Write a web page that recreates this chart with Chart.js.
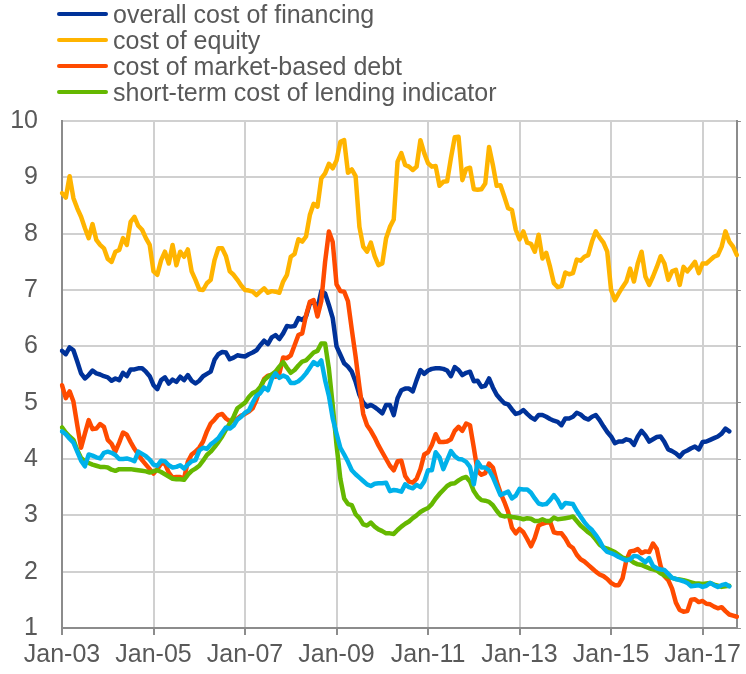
<!DOCTYPE html>
<html>
<head>
<meta charset="utf-8">
<script src="https://cdn.jsdelivr.net/npm/chart.js@4.4.1/dist/chart.umd.min.js"></script>
<style>
    body { margin: 0; background: #fff; font-family: "Liberation Sans", Arial, sans-serif; }
    #wrap { position: relative; width: 746px; height: 674px; }
    #legend { position: absolute; left: 57px; top: 1px; }
    .row { height: 26px; display: flex; align-items: center; font-size: 25px; color: #595959; white-space: nowrap; }
    .swatch { width: 51px; height: 4px; border-radius: 2px; margin-right: 5px; }
</style>
</head>
<body>
<div id="wrap">
    <canvas id="costChart" width="746" height="674"></canvas>
    <div id="legend"></div>
</div>
<script>
// monthly, Jan-03 .. Oct-17
const overall = [5.92, 5.86, 5.98, 5.93, 5.73, 5.52, 5.43, 5.49, 5.57, 5.52, 5.5, 5.47, 5.45, 5.39, 5.43, 5.4, 5.53, 5.47, 5.59, 5.59,
    5.61, 5.61, 5.55, 5.47, 5.31, 5.24, 5.4, 5.45, 5.34, 5.41, 5.37, 5.46, 5.4, 5.49, 5.39, 5.34, 5.39, 5.47, 5.51, 5.55,
    5.76, 5.86, 5.9, 5.89, 5.77, 5.8, 5.84, 5.83, 5.82, 5.86, 5.89, 5.93, 6.02, 6.1, 6.04, 6.16, 6.2, 6.13, 6.23, 6.36,
    6.35, 6.36, 6.5, 6.47, 6.53, 6.76, 6.79, 6.67, 6.98, 6.94, 6.73, 6.5, 6.0, 5.85, 5.7, 5.64, 5.55, 5.37, 5.14, 5.0,
    4.93, 4.96, 4.92, 4.87, 4.81, 4.96, 4.96, 4.78, 5.08, 5.22, 5.25, 5.25, 5.2, 5.4, 5.58, 5.51, 5.57, 5.6, 5.61, 5.61,
    5.6, 5.57, 5.47, 5.63, 5.58, 5.49, 5.53, 5.55, 5.38, 5.39, 5.28, 5.3, 5.43, 5.27, 5.14, 5.06, 4.99, 4.97, 4.88, 4.8,
    4.82, 4.87, 4.8, 4.74, 4.7, 4.78, 4.78, 4.75, 4.71, 4.68, 4.66, 4.6, 4.72, 4.72, 4.75, 4.82, 4.79, 4.73, 4.7, 4.75,
    4.78, 4.69, 4.58, 4.48, 4.4, 4.28, 4.31, 4.31, 4.35, 4.33, 4.25, 4.4, 4.5, 4.42, 4.31, 4.35, 4.39, 4.4, 4.3, 4.17,
    4.14, 4.1, 4.04, 4.12, 4.15, 4.19, 4.22, 4.17, 4.3, 4.31, 4.34, 4.37, 4.4, 4.45, 4.54, 4.49];
const equity = [8.72, 8.64, 9.02, 8.63, 8.45, 8.3, 8.1, 7.92, 8.17, 7.89, 7.8, 7.74, 7.55, 7.5, 7.68, 7.71, 7.92, 7.8, 8.21, 8.3,
    8.14, 8.07, 7.92, 7.8, 7.33, 7.27, 7.53, 7.68, 7.47, 7.8, 7.44, 7.68, 7.59, 7.72, 7.33, 7.18, 7.01, 7.0, 7.12, 7.18,
    7.53, 7.74, 7.74, 7.6, 7.33, 7.27, 7.18, 7.08, 7.0, 6.99, 6.97, 6.91, 6.97, 7.03, 6.95, 6.98, 6.97, 6.95, 7.15, 7.27,
    7.59, 7.64, 7.9, 7.86, 7.95, 8.33, 8.53, 8.48, 8.98, 9.07, 9.24, 9.16, 9.3, 9.63, 9.66, 9.08, 9.14, 9.02, 8.12, 7.77,
    7.68, 7.84, 7.6, 7.44, 7.47, 7.92, 8.12, 8.25, 9.28, 9.43, 9.22, 9.19, 9.13, 9.19, 9.66, 9.43, 9.25, 9.19, 9.2, 8.85,
    8.92, 8.93, 9.34, 9.71, 9.72, 8.95, 9.15, 9.17, 8.79, 8.78, 8.79, 8.89, 9.54, 9.22, 8.85, 8.86, 8.66, 8.45, 8.42, 8.07,
    7.9, 8.04, 7.84, 7.82, 7.68, 7.98, 7.56, 7.66, 7.41, 7.12, 7.05, 7.07, 7.31, 7.28, 7.3, 7.54, 7.52, 7.59, 7.62, 7.86,
    8.04, 7.93, 7.84, 7.68, 7.0, 6.82, 6.94, 7.05, 7.15, 7.38, 7.15, 7.47, 7.68, 7.24, 7.09, 7.24, 7.41, 7.6, 7.47, 7.18,
    7.33, 7.36, 7.09, 7.41, 7.33, 7.41, 7.5, 7.3, 7.47, 7.47, 7.53, 7.59, 7.62, 7.77, 8.04, 7.86, 7.77, 7.62];
const marketDebt = [5.31, 5.08, 5.2, 5.02, 4.6, 4.2, 4.45, 4.69, 4.53, 4.54, 4.62, 4.57, 4.34, 4.27, 4.13, 4.29, 4.47, 4.43, 4.3, 4.18,
    4.08, 3.98, 3.9, 3.82, 3.74, 3.82, 3.92, 3.92, 3.76, 3.67, 3.68, 3.68, 3.65, 3.95, 4.08, 4.13, 4.2, 4.31, 4.49, 4.63,
    4.7, 4.78, 4.8, 4.72, 4.67, 4.69, 4.72, 4.77, 4.8, 4.84, 4.9, 5.05, 5.25, 5.42, 5.48, 5.49, 5.46, 5.52, 5.8, 5.79,
    5.84, 6.02, 6.2, 6.23, 6.55, 6.79, 6.82, 6.53, 6.8, 7.5, 8.04, 7.85, 7.1, 6.98, 6.97, 6.8, 6.3, 5.82, 5.28, 4.8,
    4.6, 4.5, 4.38, 4.24, 4.12, 4.0, 3.88, 3.8, 3.96, 3.97, 3.7, 3.6, 3.58, 3.65, 3.82, 4.08, 4.12, 4.25, 4.44, 4.3,
    4.3, 4.31, 4.35, 4.5, 4.57, 4.5, 4.63, 4.6, 4.2, 3.78, 3.72, 3.75, 3.92, 3.85, 3.6, 3.4, 3.24, 3.06, 2.78, 2.68,
    2.76, 2.7, 2.58, 2.45, 2.6, 2.82, 2.85, 2.87, 2.89, 2.7, 2.68, 2.68, 2.59, 2.47, 2.42, 2.3, 2.22, 2.18, 2.12, 2.06,
    2.0, 1.95, 1.92, 1.87, 1.8, 1.76, 1.76, 1.88, 2.2, 2.36, 2.37, 2.4, 2.33, 2.36, 2.35, 2.5, 2.4, 2.1, 1.92, 1.85,
    1.7, 1.45, 1.32, 1.29, 1.3, 1.5, 1.51, 1.46, 1.48, 1.43, 1.42, 1.38, 1.35, 1.37, 1.3, 1.24, 1.22, 1.2];
const shortTermLending = [4.56, 4.47, 4.4, 4.34, 4.16, 4.02, 3.96, 3.93, 3.9, 3.88, 3.86, 3.86, 3.85, 3.81, 3.79, 3.82, 3.82, 3.82, 3.82, 3.81,
    3.8, 3.79, 3.78, 3.76, 3.78, 3.8, 3.77, 3.73, 3.69, 3.65, 3.64, 3.64, 3.63, 3.72, 3.79, 3.83, 3.88, 3.97, 4.07, 4.13,
    4.21, 4.3, 4.4, 4.52, 4.63, 4.75, 4.9, 4.95, 5.0, 5.1, 5.17, 5.2, 5.28, 5.4, 5.46, 5.5, 5.55, 5.64, 5.72, 5.62,
    5.53, 5.58, 5.66, 5.73, 5.75, 5.82, 5.89, 5.92, 6.05, 6.05, 5.6, 4.95, 4.25, 3.65, 3.3, 3.2, 3.18, 3.02, 2.95, 2.84,
    2.82, 2.87, 2.8, 2.75, 2.72, 2.68, 2.68, 2.67, 2.74, 2.8, 2.85, 2.89, 2.95, 3.0, 3.06, 3.1, 3.13, 3.2, 3.3, 3.38,
    3.45, 3.52, 3.56, 3.57, 3.62, 3.66, 3.68, 3.6, 3.43, 3.33, 3.27, 3.26, 3.24, 3.18, 3.08, 3.0, 2.98, 2.99, 2.97, 2.96,
    2.95, 2.93, 2.95, 2.94, 2.9, 2.9, 2.93, 2.9, 2.9, 2.96, 2.93, 2.94, 2.95, 2.96, 2.98, 2.9, 2.82, 2.76, 2.7, 2.65,
    2.57, 2.48, 2.43, 2.41, 2.38, 2.35, 2.3, 2.25, 2.23, 2.21, 2.16, 2.13, 2.12, 2.09, 2.06, 2.04, 2.02, 1.97, 1.93, 1.91,
    1.89, 1.87, 1.86, 1.85, 1.83, 1.81, 1.79, 1.79, 1.78, 1.79, 1.8, 1.77, 1.75, 1.73, 1.74, 1.75];
// light blue line, not in the legend
const longTermLending = [4.49, 4.44, 4.36, 4.29, 4.13, 3.97, 3.87, 4.08, 4.06, 4.03, 4.01, 4.11, 4.13, 4.11, 4.07, 4.0, 4.0, 4.01, 3.99, 3.96,
    4.13, 4.09, 4.05, 3.99, 3.9, 3.88, 3.97, 3.96, 3.89, 3.85, 3.86, 3.89, 3.83, 3.9, 3.96, 3.98, 4.15, 4.2, 4.18, 4.26,
    4.31, 4.37, 4.47, 4.56, 4.54, 4.59, 4.7, 4.75, 4.82, 4.86, 5.0, 5.12, 5.17, 5.27, 5.22, 5.42, 5.52, 5.44, 5.48, 5.45,
    5.35, 5.35, 5.38, 5.44, 5.52, 5.62, 5.72, 5.67, 5.75, 5.4, 5.12, 4.72, 4.45, 4.2, 4.08, 3.95, 3.8, 3.73, 3.67, 3.61,
    3.55, 3.52, 3.56, 3.57, 3.57, 3.58, 3.43, 3.45, 3.44, 3.42, 3.55, 3.5, 3.48, 3.54, 3.5, 3.6, 3.8, 3.8, 4.12, 4.03,
    3.82, 3.98, 4.14, 4.05, 4.0, 3.99, 3.95, 3.86, 3.55, 3.95, 3.85, 3.85, 3.8, 3.68, 3.52, 3.36, 3.39, 3.42, 3.3, 3.35,
    3.47, 3.46, 3.46, 3.4, 3.3, 3.21, 3.19, 3.2, 3.27, 3.36, 3.27, 3.14, 3.22, 3.21, 3.2, 3.08, 2.98, 2.88, 2.8, 2.74,
    2.65, 2.55, 2.42, 2.35, 2.33, 2.3, 2.26, 2.23, 2.2, 2.22, 2.28, 2.27, 2.22, 2.17, 2.24, 2.1, 2.06, 2.04, 2.03, 1.96,
    1.89, 1.87, 1.85, 1.83, 1.8, 1.74, 1.75, 1.76, 1.73, 1.75, 1.8, 1.76, 1.73, 1.76, 1.78, 1.74];

const monthNames = ['Jan', 'Feb', 'Mar', 'Apr', 'May', 'Jun', 'Jul', 'Aug', 'Sep', 'Oct', 'Nov', 'Dec'];
const labels = [];
for (let i = 0; i < equity.length; i++) {
    const yy = 3 + Math.floor(i / 12);
    labels.push(monthNames[i % 12] + '-' + (yy < 10 ? '0' + yy : yy));
}

const legendItems = [
    { text: 'overall cost of financing', color: '#003299' },
    { text: 'cost of equity', color: '#FFB400' },
    { text: 'cost of market-based debt', color: '#FF4B00' },
    { text: 'short-term cost of lending indicator', color: '#65B800' }
];
const legend = document.getElementById('legend');
legendItems.forEach(item => {
    const row = document.createElement('div');
    row.className = 'row';
    row.innerHTML = '<span class="swatch" style="background:' + item.color + '"></span>' + item.text;
    legend.appendChild(row);
});

const axisGrey = '#8c8c8c';
const gridGrey = '#d0d0d0';
const textGrey = '#595959';
const font = { family: '"Liberation Sans", Arial, sans-serif', size: 25 };

function line(data, color, order) {
    return { data: data, borderColor: color, backgroundColor: color, borderWidth: 4.5, pointRadius: 0, tension: 0, order: order };
}

new Chart(document.getElementById('costChart').getContext('2d'), {
    type: 'line',
    data: {
        labels: labels,
        datasets: [
            line(overall, '#003299', 4),
            line(equity, '#FFB400', 3),
            line(marketDebt, '#FF4B00', 2),
            line(shortTermLending, '#65B800', 1),
            line(longTermLending, '#00B1EA', 0)
        ]
    },
    options: {
        responsive: false,
        animation: false,
        layout: { padding: { top: 121, left: 0, right: 0, bottom: 0 } },
        plugins: { legend: { display: false }, tooltip: { enabled: false } },
        elements: { line: { borderJoinStyle: 'round', borderCapStyle: 'round' } },
        scales: {
            x: {
                afterBuildTicks: axis => { axis.ticks = axis.ticks.filter(t => t.value % 24 === 0); },
                afterFit: axis => { axis.height = 46; },
                grid: { color: gridGrey, lineWidth: 2, tickColor: axisGrey, tickLength: 7 },
                border: { color: axisGrey, width: 2 },
                ticks: { autoSkip: false, maxRotation: 0, minRotation: 0, padding: 5, color: textGrey, font: font }
            },
            y: {
                min: 1,
                max: 10,
                afterFit: axis => { axis.width = 62; },
                grid: { color: gridGrey, lineWidth: 2, drawTicks: false },
                border: { color: axisGrey, width: 2 },
                ticks: { stepSize: 1, padding: 24, color: textGrey, font: font }
            },
            y2: {
                position: 'right',
                min: 1,
                max: 10,
                afterFit: axis => { axis.width = 4; },
                grid: { drawOnChartArea: false, tickColor: axisGrey, tickLength: 4 },
                border: { color: axisGrey, width: 2 },
                ticks: { display: false, stepSize: 1 }
            }
        }
    }
});
</script>
</body>
</html>
